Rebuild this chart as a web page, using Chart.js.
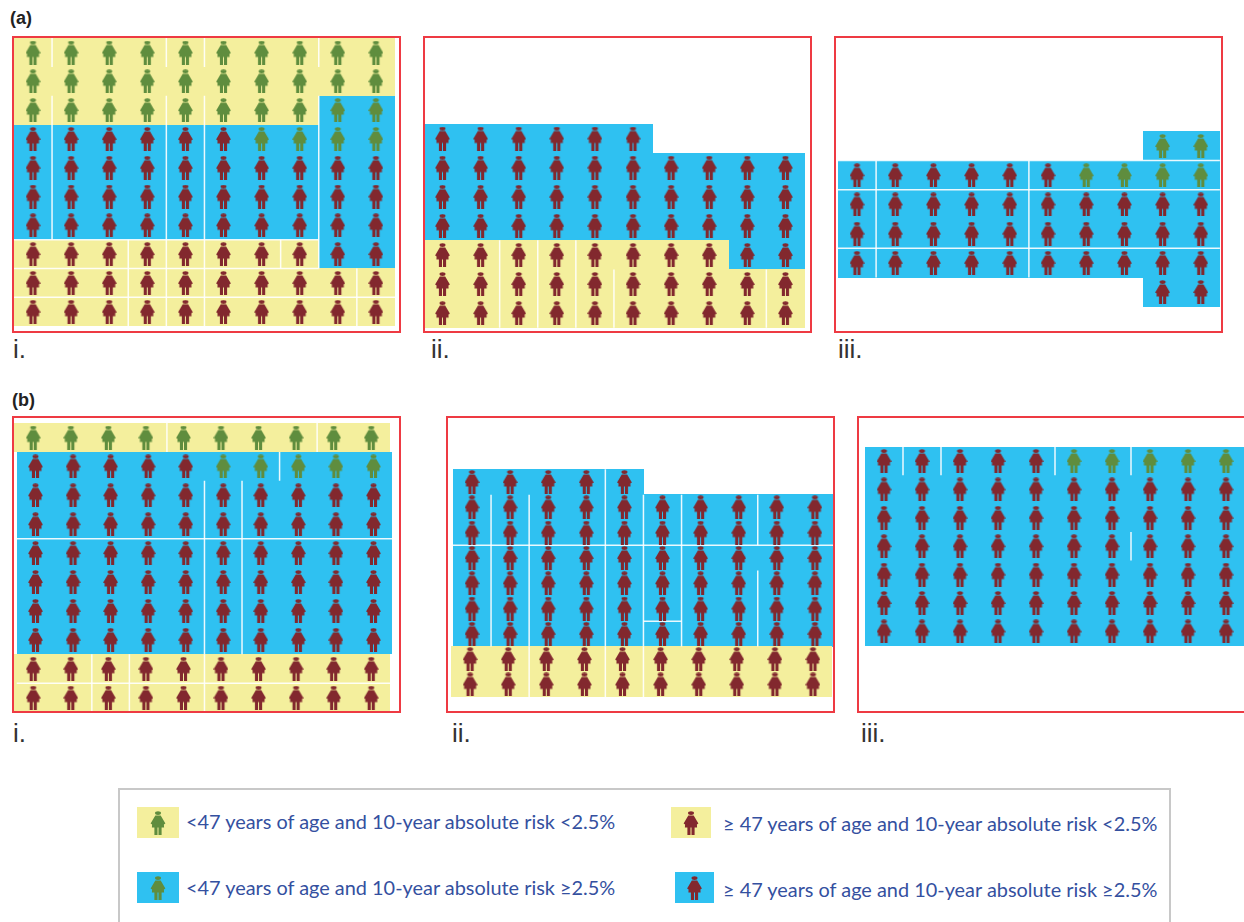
<!DOCTYPE html>
<html lang="en">
<head>
  <meta charset="UTF-8" />
  <title>Risk pictograms</title>
  <script src="https://cdn.jsdelivr.net/npm/chart.js"></script>
  <style>
    html, body {
      margin: 0;
      width: 1244px;
      height: 922px;
      overflow: hidden;
      background: #fff;
      font-family: 'Liberation Sans', sans-serif;
    }
    .panel { position: absolute; width: 389px; height: 297px; }
    .panel canvas { position: absolute; left: 0; top: 0; }
    .frame {
      position: absolute; inset: 0;
      box-sizing: border-box;
      border: 2px solid #ee3a43;
    }
    .head { position: absolute; font-size: 18px; font-weight: bold; color: #222; line-height: 20px; }
    .sub { position: absolute; font-size: 26px; color: #333; line-height: 30px; }
    .legend-box {
      position: absolute; left: 118px; top: 788px; width: 1049px; height: 160px;
      border: 2px solid #c8c8c8;
    }
    .swatch { position: absolute; }
    .legend-text {
      position: absolute; font-family: Lato, sans-serif; font-size: 19.9px;
      color: #34509f; line-height: 24px; white-space: nowrap;
    }
  </style>
</head>
<body>

<script>
  // g = green on yellow, G = green on blue, r = red on yellow, R = red on blue, . = nobody
  const rowsAi = ['gggggggggg', 'gggggggggg', 'ggggggggGG', 'RRRRRRGGGG', 'RRRRRRRRRR',
                  'RRRRRRRRRR', 'RRRRRRRRRR', 'rrrrrrrrRR', 'rrrrrrrrrr', 'rrrrrrrrrr'];
  const rowsAii = ['RRRRRR....', 'RRRRRRRRRR', 'RRRRRRRRRR', 'RRRRRRRRRR',
                   'rrrrrrrrRR', 'rrrrrrrrrr', 'rrrrrrrrrr'];
  const rowsAiii = ['........GG', 'RRRRRRGGGG', 'RRRRRRRRRR', 'RRRRRRRRRR', 'RRRRRRRRRR', '........RR'];
  const rowsBi = ['gggggggggg', 'RRRRRGGGGG', 'RRRRRRRRRR', 'RRRRRRRRRR', 'RRRRRRRRRR',
                  'RRRRRRRRRR', 'RRRRRRRRRR', 'RRRRRRRRRR', 'rrrrrrrrrr', 'rrrrrrrrrr'];
  const rowsBii = ['RRRRR.....', 'RRRRRRRRRR', 'RRRRRRRRRR', 'RRRRRRRRRR', 'RRRRRRRRRR',
                   'RRRRRRRRRR', 'RRRRRRRRRR', 'rrrrrrrrrr', 'rrrrrrrrrr'];
  const rowsBiii = ['RRRRRGGGGG', 'RRRRRRRRRR', 'RRRRRRRRRR', 'RRRRRRRRRR',
                    'RRRRRRRRRR', 'RRRRRRRRRR', 'RRRRRRRRRR'];

  // white gaps between cells: [column edge, first row, last row]
  const vertAi = [[1,0,0],[1,2,6],[4,0,0],[4,2,6],[5,0,0],[5,2,6],[8,0,0],[8,2,7],
                  [3,7,9],[4,7,9],[5,7,9],[7,7,7],[9,8,9]];
  const vertAii = [[2,4,6],[3,4,6],[4,4,6],[5,5,6],[9,5,6]];
  const vertAiii = [[1,1,4],[5,1,4]];
  const vertBi = [[4,0,0],[8,0,0],[7,1,1],[5,2,7],[6,2,7],[2,8,9],[3,8,9],[5,8,9]];
  const vertBii = [[1,1,6],[2,1,6],[4,0,6],[5,1,6],[6,1,6],[8,1,2],[8,4,6],[2,7,8],[4,7,8],[5,7,8]];
  const vertBiii = [[1,0,0],[2,0,0],[5,0,0],[7,0,0],[7,3,3]];

  // white gaps between rows: [row edge, first column, last column]
  const horizAi = [[7,0,7],[8,0,7],[9,0,9]];
  const horizAii = [];
  const horizAiii = [[1,0,9],[2,0,9],[4,0,9]];
  const horizBi = [[4,0,9],[9,0,9]];
  const horizBii = [[3,0,9],[6,5,5]];
  const horizBiii = [];

  // sideways offset of each row, in columns
  const shiftBi = [-0.06, 0, 0, 0, 0, 0, 0, 0, -0.06, -0.06];
  const shiftBii = [0, 0, 0, 0, 0, 0, 0, -0.05, -0.05];

  const legendLabels = [
    '<47 years of age and 10-year absolute risk <2.5%',
    '<47 years of age and 10-year absolute risk \u22652.5%',
    '\u2265 47 years of age and 10-year absolute risk <2.5%',
    '\u2265 47 years of age and 10-year absolute risk \u22652.5%'
  ];

  const YELLOW = '#f4ef9d';
  const BLUE = '#2fc1f1';
  const RED = '#82282e';
  const GREEN = '#5f8d3e';

  const layouts = [
    { rows: rowsAi, vert: vertAi, horiz: horizAi, left: 12, top: 36, col0: 33, colStep: 38.1, row0: 52.5, rowStep: 28.8 },
    { rows: rowsAii, vert: vertAii, horiz: horizAii, left: 423, top: 36, col0: 442.5, colStep: 38.1, row0: 138.5, rowStep: 29.1 },
    { rows: rowsAiii, vert: vertAiii, horiz: horizAiii, left: 834, top: 36, col0: 857, colStep: 38.2, row0: 146, rowStep: 29.2 },
    { rows: rowsBi, vert: vertBi, horiz: horizBi, shift: shiftBi, left: 12, top: 416, col0: 35.5, colStep: 37.55, row0: 437.5, rowStep: 28.9 },
    { rows: rowsBii, vert: vertBii, horiz: horizBii, shift: shiftBii, left: 446, top: 416, col0: 472, colStep: 38.1, row0: 482, rowStep: 25.3 },
    { rows: rowsBiii, vert: vertBiii, horiz: horizBiii, left: 857, top: 416, col0: 884, colStep: 38, row0: 461, rowStep: 28.4 }
  ];

  function drawWoman(c, x, y, color) {
    c.save();
    c.translate(x, y);
    c.fillStyle = color;
    c.beginPath();
    c.ellipse(7.5, 2.1, 3, 1.9, 0, 0, Math.PI * 2);
    c.fill();
    c.beginPath();
    c.moveTo(4.8, 4.6);
    c.lineTo(10.2, 4.6);
    c.lineTo(14.9, 12.4);
    c.lineTo(13.4, 13.6);
    c.lineTo(13.6, 16.6);
    c.lineTo(1.4, 16.6);
    c.lineTo(1.6, 13.6);
    c.lineTo(0.1, 12.4);
    c.closePath();
    c.fill();
    c.fillRect(3.9, 16, 3.1, 8);
    c.fillRect(8, 16, 3.1, 8);
    c.restore();
  }

  function cellImage(w, h, color) {
    const cv = document.createElement('canvas');
    cv.width = w;
    cv.height = h;
    const c = cv.getContext('2d');
    c.fillStyle = color;
    c.fillRect(0, 0, w, h);
    return cv;
  }

  function womanImage(color) {
    const cv = document.createElement('canvas');
    cv.width = 15;
    cv.height = 24;
    drawWoman(cv.getContext('2d'), 0, 0, color);
    return cv;
  }

  function pointsOf(layout, codes) {
    const pts = [];
    layout.rows.forEach((row, r) => {
      const off = layout.shift ? layout.shift[r] : 0;
      row.split('').forEach((code, c) => {
        if (codes.includes(code)) pts.push({ x: c + off, y: r });
      });
    });
    return pts;
  }

  function addPanel(layout) {
    const W = 389, H = 297;
    const wrap = document.createElement('div');
    wrap.className = 'panel';
    wrap.style.left = layout.left + 'px';
    wrap.style.top = layout.top + 'px';
    const canvas = document.createElement('canvas');
    canvas.width = W;
    canvas.height = H;
    wrap.appendChild(canvas);
    const frame = document.createElement('div');
    frame.className = 'frame';
    wrap.appendChild(frame);
    document.body.appendChild(wrap);

    const cw = Math.ceil(layout.colStep), ch = Math.ceil(layout.rowStep);
    const cell = color => ({
      data: pointsOf(layout, color === YELLOW ? 'gr' : 'GR'),
      pointStyle: cellImage(cw, ch, color),
      pointRadius: 5,
      order: 3
    });
    const people = color => ({
      data: pointsOf(layout, color === GREEN ? 'gG' : 'rR'),
      pointStyle: womanImage(color),
      pointRadius: 5,
      order: 1
    });
    const gap = pts => ({
      data: pts,
      showLine: true,
      borderColor: 'rgba(255,255,255,0.9)',
      borderWidth: 1.5,
      pointRadius: 0,
      order: 2
    });
    const gaps = [
      ...layout.vert.map(([k, a, b]) => gap([{ x: k - 0.5, y: a - 0.5 }, { x: k - 0.5, y: b + 0.5 }])),
      ...layout.horiz.map(([k, a, b]) => gap([{ x: a - 0.5, y: k - 0.5 }, { x: b + 0.5, y: k - 0.5 }]))
    ];

    new Chart(canvas, {
      type: 'scatter',
      data: { datasets: [cell(YELLOW), cell(BLUE), ...gaps, people(GREEN), people(RED)] },
      options: {
        responsive: false,
        animation: false,
        events: [],
        layout: { padding: 0, autoPadding: false },
        plugins: { legend: { display: false }, tooltip: { enabled: false } },
        scales: {
          x: {
            type: 'linear', display: false,
            min: (layout.left - layout.col0) / layout.colStep,
            max: (layout.left + W - layout.col0) / layout.colStep
          },
          y: {
            type: 'linear', display: false, reverse: true,
            min: (layout.top - layout.row0) / layout.rowStep,
            max: (layout.top + H - layout.row0) / layout.rowStep
          }
        }
      }
    });
  }

  function addText(cls, text, x, y) {
    const el = document.createElement('div');
    el.className = cls;
    el.textContent = text;
    el.style.left = x + 'px';
    el.style.top = y + 'px';
    document.body.appendChild(el);
  }

  function addSwatch(x, y, w, bg, fg) {
    const cv = cellImage(w, 31, bg);
    cv.className = 'swatch';
    cv.style.left = x + 'px';
    cv.style.top = y + 'px';
    drawWoman(cv.getContext('2d'), (w - 15) / 2, 4, fg);
    document.body.appendChild(cv);
  }

  layouts.forEach(addPanel);

  addText('head', '(a)', 10, 8);
  addText('head', '(b)', 12, 390);
  [[13, 334, 'i.'], [431, 334, 'ii.'], [838, 334, 'iii.'],
   [13, 718, 'i.'], [452, 718, 'ii.'], [861, 718, 'iii.']].forEach(([x, y, t]) => addText('sub', t, x, y));

  const box = document.createElement('div');
  box.className = 'legend-box';
  document.body.appendChild(box);

  addSwatch(137, 807, 42, YELLOW, GREEN);
  addSwatch(137, 872, 42, BLUE, GREEN);
  addSwatch(671, 807, 40, YELLOW, RED);
  addSwatch(675, 872, 39, BLUE, RED);
  addText('legend-text', legendLabels[0], 186, 809);
  addText('legend-text', legendLabels[1], 186, 875);
  addText('legend-text', legendLabels[2], 723, 811);
  addText('legend-text', legendLabels[3], 723, 877);
</script>

</body>
</html>
